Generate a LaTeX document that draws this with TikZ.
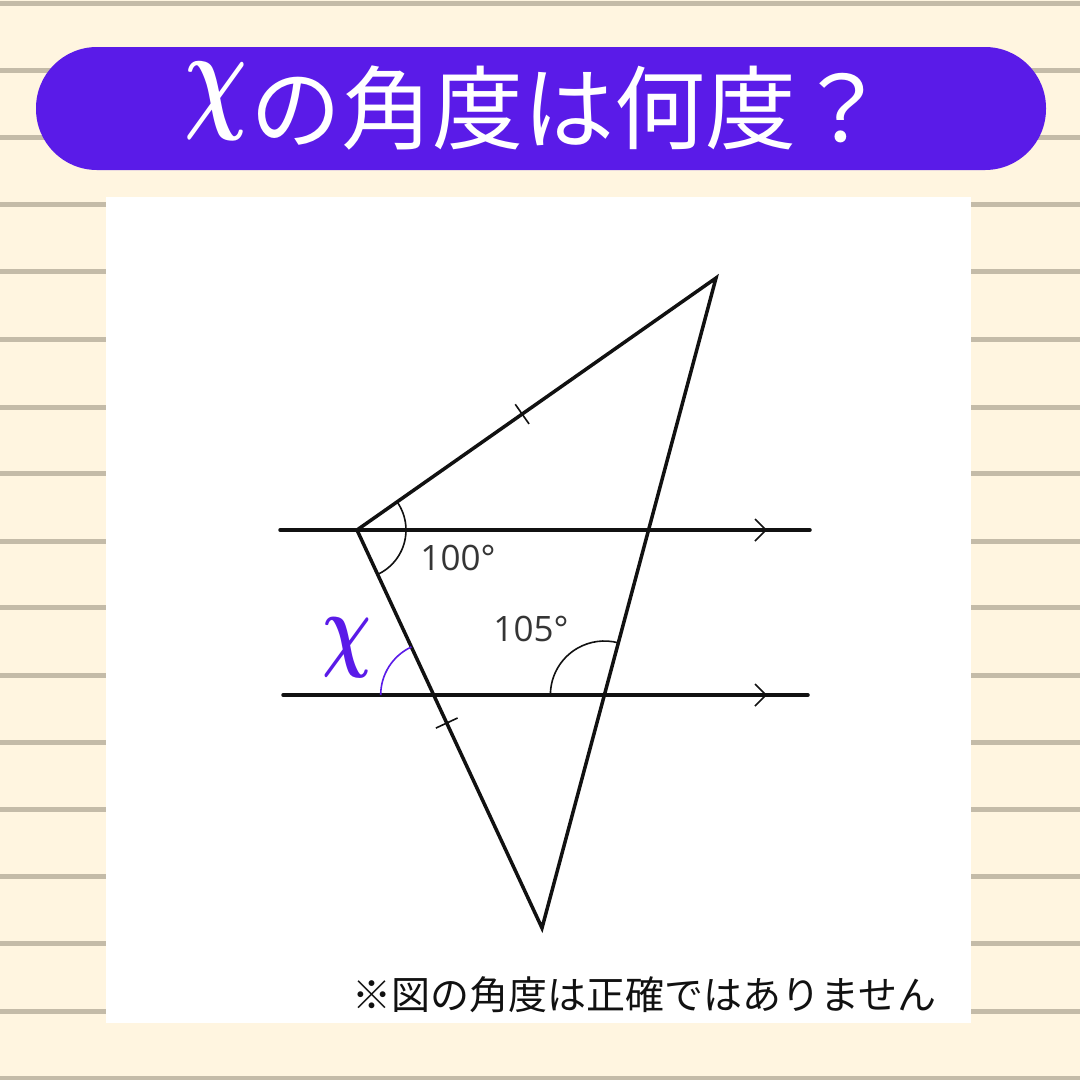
\documentclass[tikz,border=0pt]{standalone}
\usepackage{fontspec}
\setmainfont{Open Sans}
\newfontfamily\cjk{Noto Sans CJK JP}
\usetikzlibrary{calc}
\definecolor{bgcream}{HTML}{FFF5E0}
\definecolor{ruleline}{HTML}{C4BBA8}
\definecolor{banner}{HTML}{5A1BE8}
\definecolor{ink}{HTML}{111111}
\tikzset{
  mainline/.style={line width=3.5pt, ink, line cap=round},
  thinline/.style={line width=1.6pt, ink},
  xarc/.style={line width=1.6pt, banner},
  chev/.style={line width=1.6pt, ink},
  numlabel/.style={font=\fontsize{35}{37}\selectfont, text=ink!85, inner sep=0pt},
}
\begin{document}
\begin{tikzpicture}[x=1pt,y=-1pt]
\useasboundingbox (0,0) rectangle (1080,1080);
\fill[bgcream] (0,0) rectangle (1080,1080);
% ruled lines
\foreach \yy in {3,70,137,204,271,339,407,473,541,607,675,742,809,876,943,1011,1078}
  \fill[ruleline] (0,\yy-2.5) rectangle (1080,\yy+2.5);
% banner
\fill[banner, rounded corners=61] (36,47) rectangle (1046,170);
\node[text=white, inner sep=0pt] (titlechi) at (216.5,101)
  {\resizebox*{63pt}{78pt}{\boldmath$\chi$}};
\node[text=white, inner sep=0pt, anchor=west] (title) at (250,108)
  {\cjk\fontsize{91}{93}\selectfont の角度は何度？};
% white panel
\fill[white] (106,197) rectangle (971,1023);
% points
\coordinate (A) at (357,530);
\coordinate (B) at (716,278);
\coordinate (C) at (542,928);
\coordinate (L1a) at (280,530);
\coordinate (L1b) at (810,530);
\coordinate (L2a) at (283,695);
\coordinate (L2b) at (808,695);
\coordinate (P) at (433.7,695);   % AC with lower line
\coordinate (Q) at (604.4,695);   % BC with lower line
% parallel lines
\draw[mainline] (L1a) -- (L1b);
\draw[mainline] (L2a) -- (L2b);
\draw[chev] (755,519) -- (766,530) -- (755,541);
\draw[chev] (755,684) -- (766,695) -- (755,706);
% triangle sides
\draw[mainline] (A) -- (B) -- (C) -- cycle;
% tick marks
\coordinate (T1) at ($(A)!0.46!(B)$);
\coordinate (T2) at ($(A)!0.485!(C)$);
\draw[thinline] ($(T1)!12pt!90:(B)$) -- ($(T1)!12pt!-90:(B)$);
\draw[thinline] ($(T2)!12pt!90:(C)$) -- ($(T2)!12pt!-90:(C)$);
% angle arcs
\draw[thinline] ($(A)+(-35.07:49)$) arc[start angle=-35.07, end angle=65.07, radius=49];
\draw[thinline] ($(Q)+(180:54)$) arc[start angle=180, end angle=284.98, radius=54];
\draw[xarc] ($(P)+(180:53)$) arc[start angle=180, end angle=245.07, radius=53];
% labels
\node[numlabel] (l100) at (458,558) {100°};
\node[numlabel] (l105) at (531,629) {105°};
\node[text=banner, inner sep=0pt] (lx) at (347,648) {\resizebox*{49pt}{60pt}{\boldmath$\chi$}};
\node[inner sep=0pt, anchor=west, text=ink] (note) at (352,995)
  {\cjk\fontsize{39}{41}\selectfont ※図の角度は正確ではありません};
\end{tikzpicture}
\end{document}
